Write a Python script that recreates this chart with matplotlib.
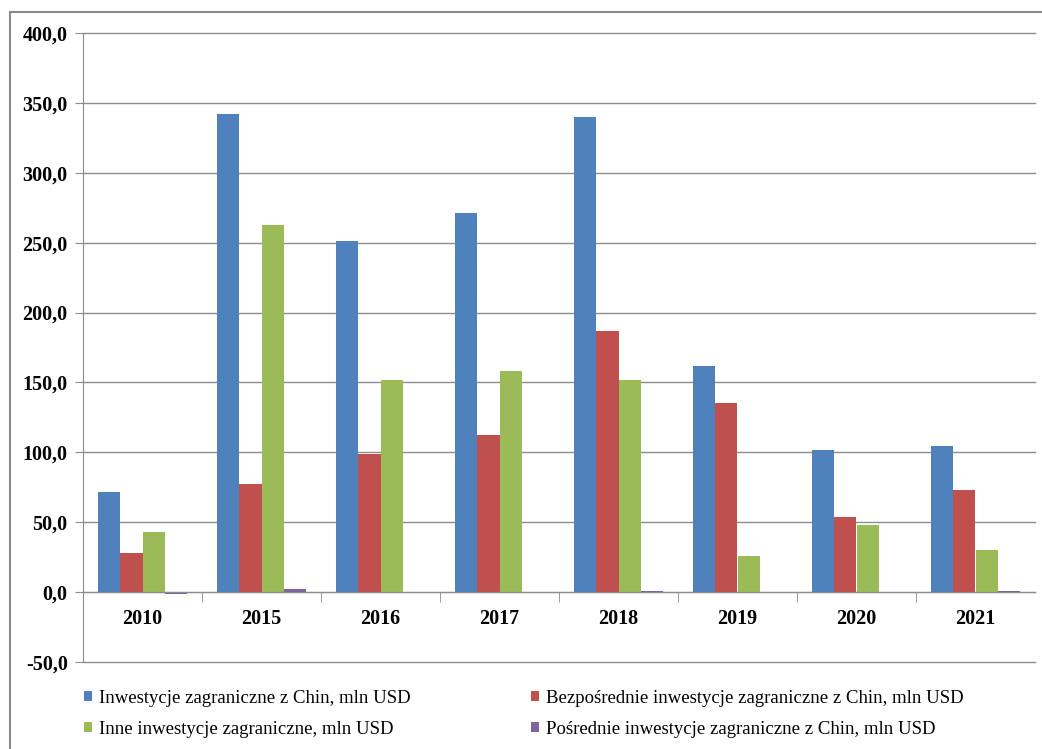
import numpy as np
import matplotlib.pyplot as plt
from matplotlib.patches import Rectangle

years = ["2010", "2015", "2016", "2017", "2018", "2019", "2020", "2021"]
total = [71.5, 342.0, 251.0, 271.5, 340.0, 162.0, 101.5, 104.5]
direct = [28.0, 77.0, 99.0, 112.5, 186.5, 135.0, 53.5, 73.0]
other = [43.0, 262.5, 151.5, 158.5, 152.0, 26.0, 48.0, 30.0]
indirect = [-1.0, 2.0, 0.0, 0.0, 0.5, 0.0, 0.0, 0.5]

labels = ["Inwestycje zagraniczne z Chin, mln USD",
          "Bezpośrednie inwestycje zagraniczne z Chin, mln USD",
          "Inne inwestycje zagraniczne, mln USD",
          "Pośrednie inwestycje zagraniczne z Chin, mln USD"]
colors = ["#4F81BD", "#C0504D", "#9BBB59", "#8064A2"]

plt.rcParams["font.family"] = ["Liberation Serif", "DejaVu Serif"]

W, H = 1042, 749
fig = plt.figure(figsize=(W / 100, H / 100), dpi=100)
fig.patches.append(Rectangle((10 / W, -0.1), 1.2, 1 - 12 / H + 0.1,
                             transform=fig.transFigure, fill=False,
                             ec="#8a8a8a", lw=1.5))
ax = fig.add_axes([83 / W, 1 - 662 / H, (1035 - 83) / W, (662 - 33) / H])

x = np.arange(len(years))
bw = 0.185
series = [total, direct, other, indirect]
for i, (vals, c) in enumerate(zip(series, colors)):
    ax.bar(x + (i - 1.5) * bw, vals, bw, color=c, label=labels[i], zorder=3)

ax.set_xlim(-0.5, len(years) - 0.5)
ax.set_ylim(-50, 400)
yt = np.arange(-50, 401, 50)
ax.set_yticks(yt)
ax.set_yticklabels([f"{v:.1f}".replace(".", ",") for v in yt],
                   fontsize=14.5, fontweight="bold")
for v in yt:
    ax.axhline(v, color="#8c8c8c", lw=1, zorder=0, clip_on=False)
ax.tick_params(axis="y", length=6, color="#8c8c8c", pad=5)

for s in ["top", "right"]:
    ax.spines[s].set_visible(False)
ax.spines["left"].set_color("#8c8c8c")
ax.spines["bottom"].set_position(("data", 0))
ax.spines["bottom"].set_color("#8c8c8c")
ax.spines["bottom"].set_zorder(4)

ax.set_xticks(x)
ax.set_xticklabels(years, fontsize=14.5, fontweight="bold")
ax.set_xticks(np.arange(0.5, len(years) - 0.5, 1), minor=True)
ax.tick_params(axis="x", which="major", length=0, pad=12)
ax.tick_params(axis="x", which="minor", length=7, color="#8c8c8c")

h, l = ax.get_legend_handles_labels()
order = [0, 2, 1, 3]
fig.legend([h[i] for i in order], [l[i] for i in order], ncol=2,
           loc="upper left", bbox_to_anchor=(67 / W, 1 - 673 / H),
           frameon=False, fontsize=13.5, handlelength=0.45, handleheight=0.45,
           handletextpad=0.35, columnspacing=6.4, labelspacing=0.75)

fig.savefig("out.png", dpi=100)
